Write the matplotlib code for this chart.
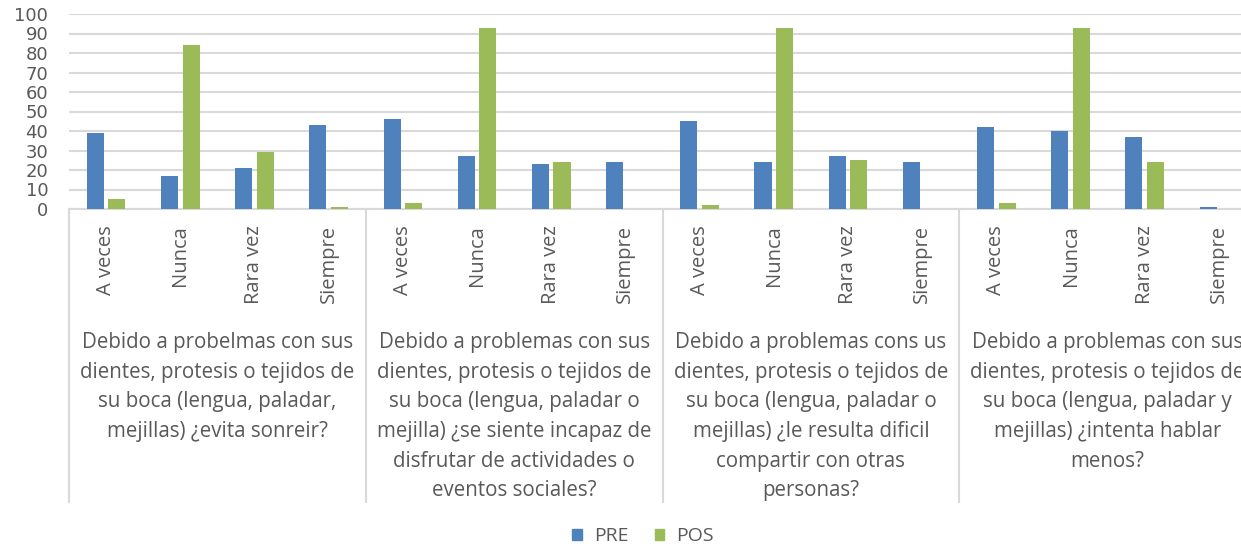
import matplotlib
matplotlib.use('Agg')
import matplotlib.pyplot as plt
from matplotlib.patches import Patch
from matplotlib.transforms import blended_transform_factory

# datos
respuestas = ['A veces', 'Nunca', 'Rara vez', 'Siempre']
preguntas = [
    'Debido a probelmas con sus\ndientes, protesis o tejidos de\nsu boca (lengua, paladar,\nmejillas) ¿evita sonreir?',
    'Debido a problemas con sus\ndientes, protesis o tejidos de\nsu boca (lengua, paladar o\nmejilla) ¿se siente incapaz de\ndisfrutar de actividades o\neventos sociales?',
    'Debido a problemas cons us\ndientes, protesis o tejidos de\nsu boca (lengua, paladar o\nmejillas) ¿le resulta dificil\ncompartir con otras\npersonas?',
    'Debido a problemas con sus\ndientes, protesis o tejidos de\nsu boca (lengua, paladar y\nmejillas) ¿intenta hablar\nmenos?',
]
pre = [39, 17, 21, 43,
       46, 27, 23, 24,
       45, 24, 27, 24,
       42, 40, 37, 1]
pos = [5, 84, 29, 1,
       3, 93, 24, 0,
       2, 93, 25, 0,
       3, 93, 24, 0]

azul = '#4F81BD'
verde = '#9BBB59'
gris = '#D9D9D9'
texto = '#595959'

W, H = 1241, 546
fig = plt.figure(figsize=(W / 100, H / 100), dpi=100)


def fy(px):
    return (H - px) / H


ax = fig.add_axes([69 / W, fy(209), 1187 / W, fy(14) - fy(209)])

x = list(range(len(pre)))
ax.bar([i - 0.145 for i in x], pre, width=0.23, color=azul, zorder=3)
ax.bar([i + 0.145 for i in x], pos, width=0.23, color=verde, zorder=3)

ax.set_xlim(-0.5, len(pre) - 0.5)
ax.set_ylim(0, 100)
ax.set_yticks(range(0, 101, 10))
ax.yaxis.grid(True, color=gris, linewidth=1.5, zorder=0)
ax.tick_params(axis='y', length=0, pad=15, labelsize=13, labelcolor=texto)
for lab in ax.get_yticklabels():
    lab.set_fontfamily('DejaVu Sans')

ax.set_xticks(x)
ax.set_xticklabels(respuestas * len(preguntas), rotation=90, va='top',
                   fontsize=14.5, color=texto, fontfamily='Open Sans')
ax.tick_params(axis='x', length=0, pad=11.5)

for s in ['left', 'right', 'top']:
    ax.spines[s].set_visible(False)
ax.spines['bottom'].set_color(gris)
ax.spines['bottom'].set_linewidth(1.5)

# etiquetas de pregunta y separadores
tr = blended_transform_factory(ax.transData, fig.transFigure)
n = len(respuestas)
for g, preg in enumerate(preguntas):
    x0 = g * n - 0.5
    ax.plot([x0, x0], [fy(209), fy(502)], color=gris, linewidth=1.5,
            transform=tr, clip_on=False)
    ax.text(x0 + n / 2, fy(332), preg, transform=tr, ha='center', va='top',
            fontsize=14.8, color=texto, fontfamily='Open Sans',
            linespacing=1.54)
x0 = len(preguntas) * n - 0.5
ax.plot([x0, x0], [fy(209), fy(502)], color=gris, linewidth=1.5,
        transform=tr, clip_on=False)

handles = [Patch(color=azul, label='PRE'), Patch(color=verde, label='POS')]
leg = fig.legend(handles=handles, loc='center', ncol=2,
                 bbox_to_anchor=(643 / W, fy(536)), frameon=False,
                 handlelength=0.5, handleheight=0.5, handletextpad=0.6,
                 columnspacing=1.35, prop={'family': 'Open Sans', 'size': 14})
for t in leg.get_texts():
    t.set_color(texto)

fig.savefig('out.png', dpi=100)
